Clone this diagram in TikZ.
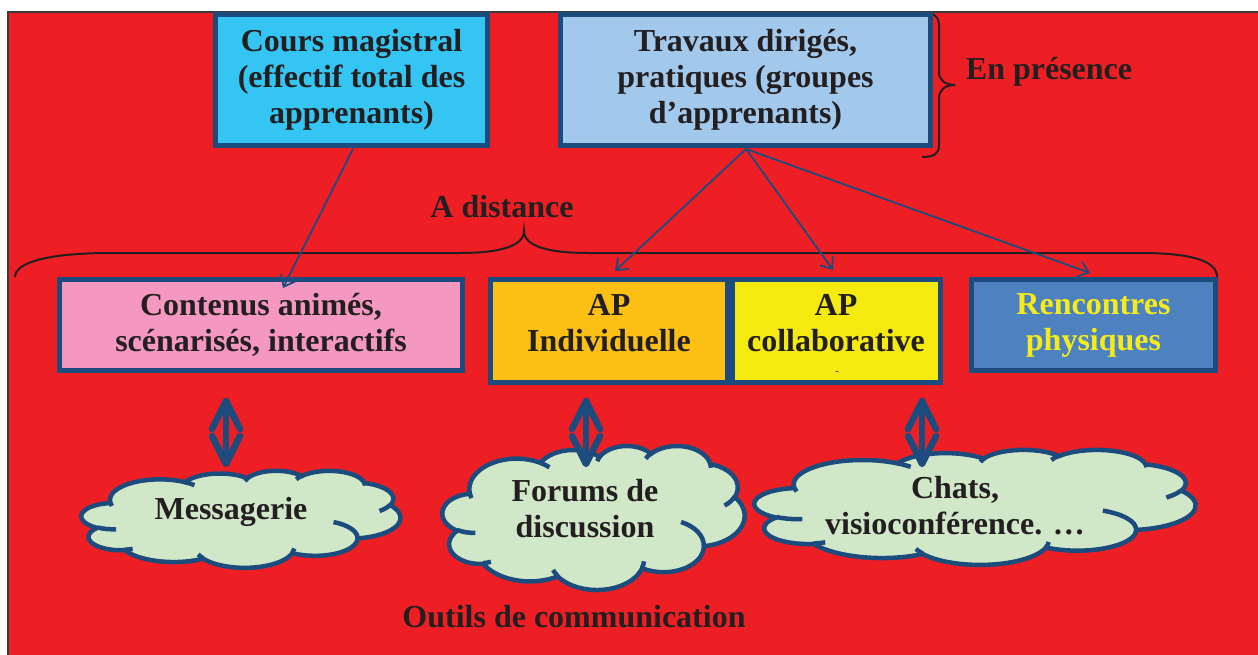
\documentclass[tikz,border=0pt]{standalone}
\usepackage{fontspec}
\setmainfont{Liberation Serif}
\usetikzlibrary{arrows.meta}
\definecolor{bgred}{HTML}{ED1F24}
\definecolor{frame}{HTML}{3A3A3A}
\definecolor{bord}{HTML}{1C4C7E}
\definecolor{ink}{HTML}{231F20}
\definecolor{cmfill}{HTML}{35C5F3}
\definecolor{tdfill}{HTML}{A2C8EC}
\definecolor{pinkfill}{HTML}{F498C2}
\definecolor{orangefill}{HTML}{FCC015}
\definecolor{yellowfill}{HTML}{F4EA10}
\definecolor{bluefill}{HTML}{4E81C0}
\definecolor{yellowtext}{HTML}{F4EC1A}
\definecolor{cloudfill}{HTML}{D0E7C8}
% PowerPoint-like cloud outline in a 432 x 432 box
\newcommand{\CloudOuter}{(39,143.70)
 arc[start angle=-187.746, end angle=-59.63, x radius=67.53, y radius=91.90]
 arc[start angle=-152.014, end angle=-45.445, x radius=53.33, y radius=72.67]
 arc[start angle=-153.491, end angle=-37.32, x radius=43.65, y radius=59.45]
 arc[start angle=-139.69, end angle=-10.212, x radius=48.57, y radius=65.95]
 arc[start angle=-74.77, end angle=23.21, x radius=53.33, y radius=72.73]
 arc[start angle=-37.51, end angle=81.86, x radius=67.75, y radius=92.20]
 arc[start angle=0.46, end angle=121.98, x radius=57.85, y radius=78.67]
 arc[start angle=16.84, end angle=146.21, x radius=67.52, y radius=92.15]
 arc[start angle=58.98, end angle=150.17, x radius=77.20, y radius=105.43]
 arc[start angle=83.31, end angle=223.11, x radius=43.60, y radius=59.18]
 arc[start angle=120.35, end angle=264.11, x radius=43.45, y radius=59.45]
 -- cycle}
\newcommand{\CloudInner}{
 (46.93,261.77) arc[start angle=85.547, end angle=120.36, x radius=43.45, y radius=59.45]
 (69.28,348.99) arc[start angle=68.24, end angle=83.31, x radius=43.60, y radius=59.18]
 (164.78,390.90) arc[start angle=146.21, end angle=158.47, x radius=67.52, y radius=92.15]
 (288.27,347.51) arc[start angle=4.738, end angle=16.84, x radius=67.52, y radius=92.15]
 (341.29,229.54) arc[start angle=-64.03, end angle=0.46, x radius=57.85, y radius=78.67]
 (417.98,153.54) arc[start angle=23.21, end angle=49.65, x radius=53.33, y radius=72.73]
 (383.24,54.26) arc[start angle=-10.212, end angle=0.821, x radius=48.57, y radius=65.95]
 (290.78,39.52) arc[start angle=-156.29, end angle=-139.69, x radius=48.57, y radius=65.95]
 (221.41,47.20) arc[start angle=-167.73, end angle=-153.491, x radius=43.65, y radius=59.45]
 (140.00,51.92) arc[start angle=-59.63, end angle=-45.74, x radius=67.53, y radius=91.90]
 (41.27,157.89) arc[start angle=163.19, end angle=172.25, x radius=67.53, y radius=91.90]}
\begin{document}
\begin{tikzpicture}[x=1pt,y=-1pt,
  txt/.style={font=\fontsize{32}{36}\selectfont\bfseries, text=ink, align=center, inner sep=0pt},
  box/.style={draw=bord, line width=5pt, inner sep=0pt, align=center,
    font=\fontsize{32}{36}\selectfont\bfseries, text=ink},
  cloudline/.style={draw=bord, line width=4.5pt, fill=cloudfill},
  cloudinner/.style={draw=bord, line width=4.5pt},
  link/.style={draw=bord, line width=1.8pt,
    -{Straight Barb[length=10pt,width=16pt,line width=1.8pt]}},
  bracepath/.style={draw=ink, line width=2pt},
  dbl/.style={draw=bord, line width=6.5pt, line join=round, line cap=round}
]
\useasboundingbox (0,0) rectangle (1258,655);
\fill[white] (0,0) rectangle (1258,655);
\path[fill=bgred, draw=frame, line width=1.2pt] (8,12) rectangle (1264,662);

% braces
\draw[bracepath] (922,13) .. controls (934,13) and (939,16) .. (939,26) -- (939,72)
  .. controls (939,80) and (945,85) .. (955,85)
  .. controls (945,85) and (939,90) .. (939,98) -- (939,145)
  .. controls (939,154) and (934,157) .. (922,157);
\draw[bracepath] (15,277) .. controls (15,262) and (50,253) .. (110,253) -- (460,253)
  .. controls (500,253) and (524,246) .. (524,231)
  .. controls (524,246) and (548,253) .. (588,253) -- (1140,253)
  .. controls (1195,253) and (1217,262) .. (1217,277);

% top boxes
\node[box, fill=cmfill, minimum width=272pt, minimum height=131pt] (cm) at (351.5,80)
  {Cours magistral\\(effectif total des\\apprenants)};
\node[box, fill=tdfill, minimum width=370pt, minimum height=131pt] (td) at (745.5,80)
  {Travaux dirigés,\\pratiques (groupes\\d’apprenants)};

% labels
\node[txt, anchor=base] (enp) at (1049,80) {En présence};
\node[txt, anchor=base] (adist) at (502,218) {A distance};
\node[txt, anchor=base] (outils) at (574,627) {Outils de communication};

% middle boxes
\node[box, fill=pinkfill, minimum width=403pt, minimum height=91pt] (cont) at (261,325)
  {Contenus animés,\\scénarisés, interactifs};
\node[box, fill=orangefill, minimum width=237pt, minimum height=103pt] (api) at (609,331) {};
\node[box, fill=yellowfill, minimum width=208pt, minimum height=103pt] (apc) at (836.5,331) {};
\node[box, fill=bluefill, minimum width=244pt, minimum height=91pt, text=yellowtext] (renc) at (1093.5,325)
  {Rencontres\\physiques};
\node[txt] (apit) at (609,323) {AP\\Individuelle};
\node[txt] (apct) at (836,323) {AP\\collaborative};
\node[inner sep=0pt, text=ink, font=\fontsize{10}{10}\selectfont\bfseries] (dash) at (837,373) {-};

% arrows
\coordinate (e0) at (283,288);
\coordinate (s0) at (353,149);
\coordinate (s1) at (746,149);
\coordinate (e1) at (615,271);
\coordinate (e2) at (833,270);
\coordinate (e3) at (1090,273);
\draw[link] (s0) -- (e0);
\draw[link] (s1) -- (e1);
\draw[link] (s1) -- (e2);
\draw[link] (s1) -- (e3);

% clouds
\begin{scope}[shift={(81.5,470.5)}, xscale=319/432, yscale=97/432]
  \path[cloudline] \CloudOuter;
  \path[cloudinner] \CloudInner;
\end{scope}
\begin{scope}[shift={(442.5,445.5)}, xscale=302/432, yscale=144/432]
  \path[cloudline] \CloudOuter;
  \path[cloudinner] \CloudInner;
\end{scope}
\begin{scope}[shift={(754.5,449.5)}, xscale=441/432, yscale=115/432]
  \path[cloudline] \CloudOuter;
  \path[cloudinner] \CloudInner;
\end{scope}
\node[txt] (c1t) at (231,512) {Messagerie};
\node[txt] (c2t) at (585,509) {Forums de\\discussion};
\node[txt] (c3t) at (955,506) {Chats,\\visioconférence. …};

% double arrows
\foreach \n/\x in {d1/226, d2/586, d3/922}{
  \coordinate (\n) at (\x,398);
  \draw[dbl] ([shift={(0,3)}]\n) -- ([shift={(-14,31)}]\n)
    ([shift={(-14,38)}]\n) -- ([shift={(0,66)}]\n) -- ([shift={(14,38)}]\n)
    ([shift={(14,31)}]\n) -- ([shift={(0,3)}]\n);
  \draw[dbl] ([shift={(0,6)}]\n) -- ([shift={(0,63)}]\n);
}
\end{tikzpicture}
\end{document}
